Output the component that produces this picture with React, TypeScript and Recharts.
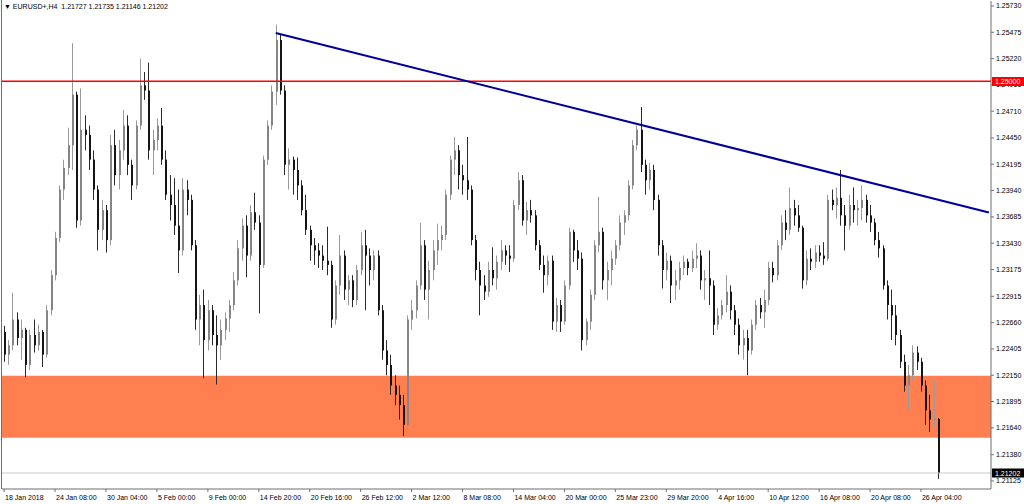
import { ComposedChart, Bar, XAxis, YAxis, ReferenceArea, ReferenceLine } from "recharts";

// EURUSD+ H4 candles, [open, high, low, close] (each candle here spans two H4 bars)
const janBars = [
  [1.2257, 1.2263, 1.2228, 1.2235], [1.2235, 1.2249, 1.2225, 1.2244], [1.2244, 1.2295, 1.2239, 1.2269],
  [1.2269, 1.2276, 1.2244, 1.2251], [1.2251, 1.2269, 1.2230, 1.2259], [1.2259, 1.2261, 1.2213, 1.2225],
  [1.2225, 1.2259, 1.2220, 1.2254], [1.2254, 1.2269, 1.2237, 1.2244], [1.2244, 1.2264, 1.2239, 1.2257],
  [1.2257, 1.2259, 1.2223, 1.2235], [1.2235, 1.2283, 1.2232, 1.2278], [1.2278, 1.2317, 1.2273, 1.2312],
  [1.2312, 1.2354, 1.2307, 1.2348], [1.2348, 1.2399, 1.2344, 1.2395], [1.2395, 1.2424, 1.2385, 1.2416],
  [1.2416, 1.2455, 1.2409, 1.2438], [1.2438, 1.2537, 1.2414, 1.2487], [1.2487, 1.2490, 1.2358, 1.2365],
  [1.2365, 1.2493, 1.2360, 1.2453], [1.2453, 1.2467, 1.2433, 1.2448], [1.2448, 1.2457, 1.2414, 1.2424],
  [1.2424, 1.2433, 1.2385, 1.2395], [1.2395, 1.2399, 1.2336, 1.2356], [1.2356, 1.2385, 1.2346, 1.2375],
  [1.2375, 1.2380, 1.2334, 1.2346], [1.2346, 1.2448, 1.2341, 1.2438], [1.2438, 1.2453, 1.2399, 1.2409],
  [1.2409, 1.2443, 1.2395, 1.2433], [1.2433, 1.2472, 1.2424, 1.2457], [1.2457, 1.2467, 1.2409, 1.2419],
];

const febBars = [
  [1.2419, 1.2424, 1.2385, 1.2399], [1.2399, 1.2462, 1.2395, 1.2457], [1.2457, 1.2522, 1.2453, 1.2496],
  [1.2496, 1.2509, 1.2482, 1.2491], [1.2491, 1.2518, 1.2424, 1.2433], [1.2433, 1.2453, 1.2409, 1.2443],
  [1.2443, 1.2464, 1.2433, 1.2457], [1.2457, 1.2474, 1.2419, 1.2424], [1.2424, 1.2433, 1.2385, 1.2390],
  [1.2390, 1.2409, 1.2365, 1.2380], [1.2380, 1.2406, 1.2351, 1.2360], [1.2360, 1.2395, 1.2314, 1.2336],
  [1.2336, 1.2406, 1.2331, 1.2395], [1.2395, 1.2404, 1.2370, 1.2385], [1.2385, 1.2390, 1.2336, 1.2341],
  [1.2341, 1.2346, 1.2259, 1.2269], [1.2269, 1.2293, 1.2244, 1.2283], [1.2283, 1.2298, 1.2212, 1.2249],
  [1.2249, 1.2288, 1.2239, 1.2278], [1.2278, 1.2283, 1.2244, 1.2254], [1.2254, 1.2273, 1.2206, 1.2244],
  [1.2244, 1.2269, 1.2230, 1.2259], [1.2259, 1.2276, 1.2249, 1.2270], [1.2270, 1.2288, 1.2257, 1.2283],
  [1.2283, 1.2315, 1.2278, 1.2307], [1.2307, 1.2346, 1.2302, 1.2338], [1.2338, 1.2367, 1.2326, 1.2360],
  [1.2360, 1.2370, 1.2310, 1.2331], [1.2331, 1.2380, 1.2326, 1.2373], [1.2373, 1.2392, 1.2356, 1.2363],
  [1.2363, 1.2370, 1.2275, 1.2322], [1.2322, 1.2428, 1.2319, 1.2424], [1.2424, 1.2462, 1.2419, 1.2457],
  [1.2457, 1.2496, 1.2453, 1.2490], [1.2490, 1.2555, 1.2477, 1.2540], [1.2540, 1.2545, 1.2487, 1.2491],
  [1.2491, 1.2496, 1.2409, 1.2419], [1.2419, 1.2435, 1.2395, 1.2424], [1.2424, 1.2427, 1.2390, 1.2414],
  [1.2414, 1.2426, 1.2385, 1.2399], [1.2399, 1.2404, 1.2370, 1.2375], [1.2375, 1.2390, 1.2351, 1.2356],
  [1.2356, 1.2360, 1.2326, 1.2341], [1.2341, 1.2348, 1.2322, 1.2336], [1.2336, 1.2343, 1.2319, 1.2331],
  [1.2331, 1.2341, 1.2317, 1.2326], [1.2326, 1.2359, 1.2312, 1.2322], [1.2322, 1.2326, 1.2261, 1.2269],
  [1.2269, 1.2307, 1.2264, 1.2302], [1.2302, 1.2351, 1.2293, 1.2331], [1.2331, 1.2336, 1.2288, 1.2298],
  [1.2298, 1.2312, 1.2283, 1.2307], [1.2307, 1.2312, 1.2281, 1.2288], [1.2288, 1.2322, 1.2283, 1.2317],
  [1.2317, 1.2354, 1.2312, 1.2341], [1.2341, 1.2356, 1.2278, 1.2331], [1.2331, 1.2338, 1.2302, 1.2317],
  [1.2317, 1.2336, 1.2307, 1.2331], [1.2331, 1.2336, 1.2273, 1.2278], [1.2278, 1.2283, 1.2230, 1.2239],
  [1.2239, 1.2249, 1.2215, 1.2225],
];

const marBars = [
  [1.2225, 1.2235, 1.2196, 1.2205], [1.2205, 1.2215, 1.2186, 1.2196], [1.2196, 1.2205, 1.2172, 1.2186],
  [1.2186, 1.2196, 1.2156, 1.2167], [1.2167, 1.2273, 1.2162, 1.2269], [1.2269, 1.2288, 1.2259, 1.2278],
  [1.2278, 1.2307, 1.2270, 1.2302], [1.2302, 1.2363, 1.2298, 1.2341], [1.2341, 1.2346, 1.2288, 1.2298],
  [1.2298, 1.2326, 1.2269, 1.2317], [1.2317, 1.2346, 1.2307, 1.2336], [1.2336, 1.2362, 1.2322, 1.2346],
  [1.2346, 1.2360, 1.2336, 1.2351], [1.2351, 1.2395, 1.2346, 1.2390], [1.2390, 1.2428, 1.2385, 1.2424],
  [1.2424, 1.2446, 1.2409, 1.2433], [1.2433, 1.2438, 1.2395, 1.2409], [1.2409, 1.2419, 1.2390, 1.2404],
  [1.2404, 1.2446, 1.2385, 1.2395], [1.2395, 1.2399, 1.2341, 1.2346], [1.2346, 1.2351, 1.2307, 1.2317],
  [1.2317, 1.2325, 1.2273, 1.2302], [1.2302, 1.2312, 1.2288, 1.2296], [1.2296, 1.2325, 1.2291, 1.2317],
  [1.2317, 1.2339, 1.2302, 1.2309], [1.2309, 1.2331, 1.2298, 1.2325], [1.2325, 1.2346, 1.2317, 1.2336],
  [1.2336, 1.2341, 1.2322, 1.2331], [1.2331, 1.2341, 1.2315, 1.2328], [1.2328, 1.2385, 1.2325, 1.2380],
  [1.2380, 1.2412, 1.2375, 1.2404], [1.2404, 1.2409, 1.2360, 1.2365], [1.2365, 1.2383, 1.2351, 1.2375],
  [1.2375, 1.2385, 1.2363, 1.2370], [1.2370, 1.2375, 1.2336, 1.2341], [1.2341, 1.2346, 1.2317, 1.2322],
  [1.2322, 1.2331, 1.2295, 1.2312], [1.2312, 1.2331, 1.2302, 1.2326], [1.2326, 1.2331, 1.2259, 1.2267],
  [1.2267, 1.2290, 1.2257, 1.2283], [1.2283, 1.2288, 1.2257, 1.2267], [1.2267, 1.2307, 1.2264, 1.2302],
  [1.2302, 1.2358, 1.2298, 1.2354], [1.2354, 1.2356, 1.2325, 1.2336], [1.2336, 1.2346, 1.2317, 1.2328],
  [1.2328, 1.2334, 1.2239, 1.2249], [1.2249, 1.2270, 1.2244, 1.2267], [1.2267, 1.2298, 1.2259, 1.2293],
  [1.2293, 1.2346, 1.2288, 1.2341], [1.2341, 1.2388, 1.2334, 1.2354], [1.2354, 1.2358, 1.2298, 1.2307],
  [1.2307, 1.2325, 1.2288, 1.2317], [1.2317, 1.2336, 1.2302, 1.2328], [1.2328, 1.2346, 1.2322, 1.2341],
  [1.2341, 1.2370, 1.2336, 1.2363], [1.2363, 1.2375, 1.2351, 1.2370], [1.2370, 1.2404, 1.2365, 1.2399],
  [1.2399, 1.2443, 1.2395, 1.2438], [1.2438, 1.2457, 1.2433, 1.2453], [1.2453, 1.2475, 1.2412, 1.2419],
  [1.2419, 1.2424, 1.2390, 1.2404], [1.2404, 1.2421, 1.2395, 1.2414], [1.2414, 1.2419, 1.2375, 1.2385],
  [1.2385, 1.2390, 1.2331, 1.2341], [1.2341, 1.2346, 1.2299, 1.2317], [1.2317, 1.2334, 1.2307, 1.2326],
  [1.2326, 1.2331, 1.2285, 1.2302], [1.2302, 1.2317, 1.2288, 1.2307], [1.2307, 1.2325, 1.2298, 1.2319],
];

const aprBars = [
  [1.2319, 1.2331, 1.2312, 1.2325], [1.2325, 1.2328, 1.2312, 1.2319], [1.2319, 1.2336, 1.2315, 1.2328],
  [1.2328, 1.2343, 1.2319, 1.2331], [1.2331, 1.2336, 1.2298, 1.2307], [1.2307, 1.2317, 1.2288, 1.2309],
  [1.2309, 1.2336, 1.2283, 1.2302], [1.2302, 1.2307, 1.2254, 1.2264], [1.2264, 1.2280, 1.2259, 1.2273],
  [1.2273, 1.2288, 1.2269, 1.2283], [1.2283, 1.2312, 1.2276, 1.2296], [1.2296, 1.2302, 1.2269, 1.2278],
  [1.2278, 1.2283, 1.2254, 1.2264], [1.2264, 1.2270, 1.2235, 1.2244], [1.2244, 1.2259, 1.2230, 1.2251],
  [1.2251, 1.2259, 1.2215, 1.2239], [1.2239, 1.2269, 1.2235, 1.2264], [1.2264, 1.2288, 1.2259, 1.2283],
  [1.2283, 1.2290, 1.2270, 1.2276], [1.2276, 1.2298, 1.2261, 1.2288], [1.2288, 1.2325, 1.2283, 1.2319],
  [1.2319, 1.2325, 1.2305, 1.2312], [1.2312, 1.2346, 1.2307, 1.2341], [1.2341, 1.2370, 1.2336, 1.2363],
  [1.2363, 1.2375, 1.2346, 1.2356], [1.2356, 1.2397, 1.2351, 1.2377], [1.2377, 1.2385, 1.2360, 1.2370],
  [1.2370, 1.2380, 1.2354, 1.2358], [1.2358, 1.2360, 1.2299, 1.2307], [1.2307, 1.2336, 1.2302, 1.2328],
  [1.2328, 1.2338, 1.2317, 1.2325], [1.2325, 1.2341, 1.2319, 1.2334], [1.2334, 1.2341, 1.2325, 1.2331],
  [1.2331, 1.2344, 1.2322, 1.2328], [1.2328, 1.2390, 1.2326, 1.2385], [1.2385, 1.2395, 1.2375, 1.2380],
  [1.2380, 1.2397, 1.2367, 1.2387], [1.2387, 1.2414, 1.2360, 1.2370], [1.2370, 1.2380, 1.2336, 1.2360],
  [1.2360, 1.2390, 1.2356, 1.2380], [1.2380, 1.2397, 1.2363, 1.2375], [1.2375, 1.2385, 1.2360, 1.2377],
  [1.2377, 1.2399, 1.2365, 1.2385], [1.2385, 1.2390, 1.2363, 1.2370], [1.2370, 1.2380, 1.2354, 1.2363],
  [1.2363, 1.2367, 1.2341, 1.2346], [1.2346, 1.2354, 1.2329, 1.2338], [1.2338, 1.2341, 1.2298, 1.2302],
  [1.2302, 1.2307, 1.2269, 1.2283], [1.2283, 1.2298, 1.2249, 1.2273], [1.2273, 1.2283, 1.2244, 1.2254],
  [1.2254, 1.2259, 1.2222, 1.2228], [1.2228, 1.2235, 1.2199, 1.2205], [1.2205, 1.2225, 1.2181, 1.2215],
  [1.2215, 1.2244, 1.2210, 1.2237], [1.2237, 1.2243, 1.2220, 1.2228], [1.2228, 1.2232, 1.2199, 1.2205],
  [1.2205, 1.2210, 1.2167, 1.2181], [1.2181, 1.2196, 1.2160, 1.2172], [1.2172, 1.2210, 1.2164, 1.2173],
  [1.21727, 1.21735, 1.21146, 1.21202],
];

const timeLabels = [
  "18 Jan 2018", "24 Jan 08:00", "30 Jan 04:00", "5 Feb 00:00", "9 Feb 00:00", "14 Feb 20:00",
  "20 Feb 16:00", "26 Feb 12:00", "2 Mar 12:00", "8 Mar 08:00", "14 Mar 04:00", "20 Mar 00:00",
  "25 Mar 23:00", "29 Mar 20:00", "4 Apr 16:00", "10 Apr 12:00", "16 Apr 08:00", "20 Apr 08:00",
  "26 Apr 04:00",
];

const priceTicks = [
  1.2573, 1.25475, 1.2522, 1.24965, 1.2471, 1.2445, 1.24195, 1.2394, 1.23685, 1.2343,
  1.23175, 1.22915, 1.2266, 1.22405, 1.2215, 1.21895, 1.2164, 1.2138, 1.21125,
];

const zoneTop = 1.22146;
const zoneBottom = 1.21544;
const level = 1.25;
const trendFrom = 1.25468;
const trendTo = 1.23728;
const lastPrice = 1.21202;
const header = "EURUSD+,H4  1.21727 1.21735 1.21146 1.21202";

const bars = [...janBars, ...febBars, ...marBars, ...aprBars];
const SHIFT = 12; // empty slots at the right edge, like the terminal's chart shift
const data = [
  ...bars.map(([o, h, l, c], i) => ({ i, o, h, l, c, range: [l, h] })),
  ...Array.from({ length: SHIFT }, (_, k) => ({ i: bars.length + k })),
];
const tickIdx = timeLabels.map((_, k) => k * 12);
const FONT = "'Liberation Sans', Arial, sans-serif";

const W = 1024;
const H = 504;
const TOP = 1;
const XAXIS_H = 15;
const DOMAIN: [number, number] = [1.21047, 1.25778];
const plotH = H - TOP - XAXIS_H;
// same linear mapping the y axis uses, for the tag drawn above the axis labels
const yOf = (p: number) => TOP + ((DOMAIN[1] - p) / (DOMAIN[1] - DOMAIN[0])) * plotH;

const Candle = (props: any) => {
  const { x, y, width, height, payload } = props;
  if (!payload || payload.o == null) return null;
  const { o, h, l, c } = payload;
  const top = height < 0 ? y + height : y;
  const span = Math.abs(height);
  const k = h > l ? span / (h - l) : 0;
  const yO = top + (h - o) * k;
  const yC = top + (h - c) * k;
  const px = Math.round(x + width / 2);
  const up = c >= o;
  const bTop = Math.min(yO, yC);
  const bH = Math.max(Math.abs(yC - yO), 1);
  return (
    <g>
      <line x1={px + 0.5} x2={px + 0.5} y1={top} y2={top + span} stroke={up ? "#9a9a9a" : "#2a2a2a"} strokeWidth={1} />
      <rect x={px} y={bTop} width={2} height={bH} fill={up ? "#858585" : "#151515"} />
    </g>
  );
};

const TimeTick = ({ x, y, payload }: any) => (
  <text x={x + 1} y={y + 6} fontSize={7} fontFamily={FONT} fill="#000" textAnchor="start">
    {timeLabels[Math.round(payload.value / 12)]}
  </text>
);

const PriceTag = ({ viewBox, text, bg }: any) => {
  if (!viewBox) return null;
  const { x, y, width } = viewBox;
  const left = x + width + 1;
  return (
    <g>
      <rect x={left} y={y - 4.5} width={32} height={9} fill={bg} />
      <text x={left + 3} y={y + 2.5} fontSize={7} fontFamily={FONT} fill="#fff">{text}</text>
    </g>
  );
};

export default function App() {
  return (
    <div style={{ position: "absolute", left: 0, top: 0, width: W, height: H, background: "#fff" }}>
      <style>{"body{margin:0}"}</style>
      <ComposedChart
        width={W}
        height={H}
        data={data}
        margin={{ top: TOP, right: 0, left: 2, bottom: 0 }}
        barCategoryGap={0}
      >
        <XAxis
          dataKey="i"
          type="category"
          ticks={tickIdx}
          interval={0}
          tick={<TimeTick />}
          tickSize={3}
          height={XAXIS_H}
          axisLine={{ stroke: "#6f6f6f" }}
          tickLine={{ stroke: "#6f6f6f" }}
        />
        <YAxis
          orientation="right"
          width={33}
          domain={DOMAIN}
          allowDataOverflow
          ticks={priceTicks}
          interval={0}
          tickFormatter={(v: number) => v.toFixed(5)}
          tick={{ fontSize: 7, fontFamily: FONT, fill: "#000" }}
          tickSize={3}
          tickMargin={2}
          axisLine={{ stroke: "#6f6f6f" }}
          tickLine={{ stroke: "#6f6f6f" }}
        />
        <ReferenceArea y1={zoneBottom} y2={zoneTop} fill="#ff7f50" fillOpacity={1} stroke="none" />
        <ReferenceLine
          y={lastPrice}
          stroke="#c8c8c8"
          strokeWidth={1}
          label={<PriceTag text="1.21202" bg="#000" />}
        />
        <Bar dataKey="range" shape={<Candle />} isAnimationActive={false} />
        <ReferenceLine y={level} stroke="#ff0000" strokeWidth={1.6} />
        <ReferenceLine
          segment={[{ x: 64, y: trendFrom }, { x: data.length - 1, y: trendTo }]}
          stroke="#000099"
          strokeWidth={2}
        />
      </ComposedChart>
      <div style={{ position: "absolute", left: 1, top: 0, width: 1, height: TOP + plotH, background: "#6f6f6f" }} />
      <div
        style={{
          position: "absolute",
          left: 992,
          top: Math.round(yOf(level) - 4.5),
          width: 32,
          height: 9,
          background: "#ff0000",
          color: "#fff",
          fontSize: 7,
          fontFamily: FONT,
          lineHeight: "9px",
          paddingLeft: 3,
          boxSizing: "border-box",
        }}
      >
        {level.toFixed(5)}
      </div>
      <div
        style={{
          position: "absolute",
          left: 4,
          top: 2,
          fontSize: 7,
          fontFamily: FONT,
          color: "#000",
          whiteSpace: "pre",
          lineHeight: "9px",
        }}
      >
        {"\u25BC " + header}
      </div>
    </div>
  );
}
